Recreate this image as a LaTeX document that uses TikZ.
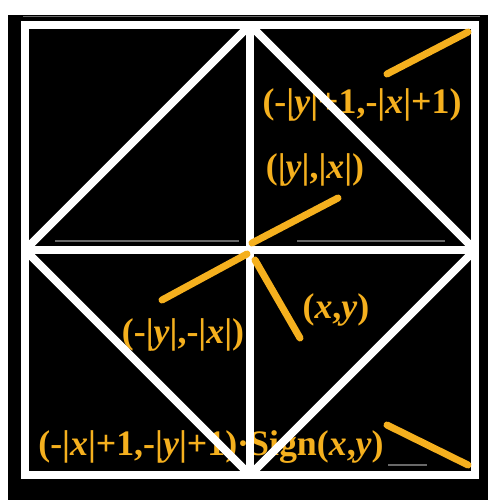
\documentclass[tikz,border=0pt]{standalone}
\usepackage{fontspec}
\setmainfont{Liberation Serif}
\usepackage{tikz}
\usetikzlibrary{positioning}
\definecolor{gold}{RGB}{245,176,30}
\definecolor{shade}{RGB}{105,105,105}

\begin{document}
\begin{tikzpicture}[
    x=0.02cm, y=-0.02cm,
    frame/.style={draw=white, line width=4.5pt, line join=miter},
    ray/.style={draw=gold, line width=4pt, line cap=round},
    txt/.style={text=gold, font=\fontsize{20.4}{24}\selectfont\bfseries, anchor=base, inner sep=0pt},
    ghost/.style={draw=shade, line width=1pt}
]
\useasboundingbox (0,0) rectangle (500,500);
\fill[white] (0,0) rectangle (500,500);
\fill[black] (8,15) rectangle (488,500);
\draw[ghost] (23,16.5) -- (480,16.5);
\draw[ghost] (55,241) -- (239,241);
\draw[ghost] (297,241) -- (445,241);
\draw[ghost] (388,465) -- (427,465);

% corners of the square
\coordinate (nw) at (25,25);
\coordinate (se) at (475,475);
\coordinate (n) at (250,25);
\coordinate (s) at (250,475);
\coordinate (w) at (25,250);
\coordinate (e) at (475,250);

\node[txt] (far) at (362,113) {(-|\textit{y}|+1,-|\textit{x}|+1)};
\node[txt] (swap) at (315,178) {(|\textit{y}|,|\textit{x}|)};
\node[txt] (neg) at (183,343) {(-|\textit{y}|,-|\textit{x}|)};
\node[txt] (id) at (336,318) {(\textit{x},\textit{y})};
\node[txt] (sign) at (211,455) {(-|\textit{x}|+1,-|\textit{y}|+1)·Sign(\textit{x},\textit{y})};

\draw[frame] (nw) rectangle (se);
\draw[frame] (n) -- (s);
\draw[frame] (w) -- (e);
\draw[frame] (n) -- (e);
\draw[frame] (e) -- (s);
\draw[frame] (s) -- (w);
\draw[frame] (w) -- (n);

\draw[ray] (387,74) -- (468,32);
\draw[ray] (252,243) -- (338,198);
\draw[ray] (162,300) -- (247,254);
\draw[ray] (255,260) -- (300,338);
\draw[ray] (387,425) -- (468,465);
\end{tikzpicture}
\end{document}
